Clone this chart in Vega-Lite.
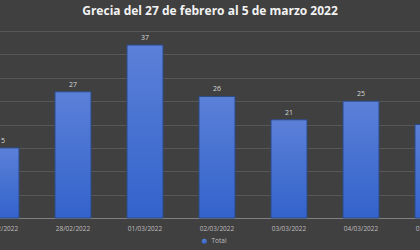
{
  "$schema": "https://vega.github.io/schema/vega-lite/v6.json",
  "width": 420,
  "height": 187,
  "autosize": {"type": "none"},
  "padding": {"left": 0, "top": 31, "right": 0, "bottom": 32},
  "background": "#404040",
  "config": {"view": {"stroke": null}},
  "title": {
    "text": "Grecia del 27 de febrero al 5 de marzo 2022",
    "color": "#f2f2f2",
    "font": "Open Sans",
    "fontSize": 12,
    "fontWeight": "bold",
    "anchor": "middle",
    "offset": 13
  },
  "data": {
    "values": [
      {"fecha": "27/02/2022", "total": 15, "serie": "Total"},
      {"fecha": "28/02/2022", "total": 27, "serie": "Total"},
      {"fecha": "01/03/2022", "total": 37, "serie": "Total"},
      {"fecha": "02/03/2022", "total": 26, "serie": "Total"},
      {"fecha": "03/03/2022", "total": 21, "serie": "Total"},
      {"fecha": "04/03/2022", "total": 25, "serie": "Total"},
      {"fecha": "05/03/2022", "total": 20, "serie": "Total"}
    ]
  },
  "encoding": {
    "x": {
      "field": "fecha",
      "type": "nominal",
      "sort": null,
      "scale": {"range": [-35, 469], "paddingInner": 0.5, "paddingOuter": 0.25},
      "axis": {
        "title": null,
        "labelAngle": 0,
        "ticks": false,
        "domain": true,
        "domainColor": "#808080",
        "labelColor": "#bfbfbf",
        "labelFont": "Open Sans",
        "labelFontSize": 6.5,
        "labelPadding": 7,
        "grid": false
      }
    },
    "y": {
      "field": "total",
      "type": "quantitative",
      "scale": {"domain": [0, 40]},
      "axis": {
        "title": null,
        "labels": false,
        "ticks": false,
        "domain": false,
        "grid": true,
        "gridColor": "#575757",
        "values": [5, 10, 15, 20, 25, 30, 35, 40]
      }
    }
  },
  "layer": [
    {
      "mark": {
        "type": "bar",
        "fill": {
          "gradient": "linear",
          "x1": 0, "y1": 0, "x2": 0, "y2": 1,
          "stops": [
            {"offset": 0, "color": "#5b80d8"},
            {"offset": 1, "color": "#3363cb"}
          ]
        },
        "strokeWidth": 1
      },
      "encoding": {
        "stroke": {
          "field": "serie",
          "type": "nominal",
          "scale": {"range": ["#2d4a85"]},
          "legend": {
            "orient": "none",
            "legendX": 201,
            "legendY": 207,
            "title": null,
            "symbolType": "circle",
            "symbolSize": 25,
            "symbolFillColor": "#4a74d0",
            "symbolStrokeWidth": 0,
            "labelColor": "#bfbfbf",
            "labelFont": "Open Sans",
            "labelFontSize": 6.5
          }
        }
      }
    },
    {
      "mark": {
        "type": "text",
        "dy": -7,
        "color": "#d9d9d9",
        "font": "Open Sans",
        "fontSize": 7
      },
      "encoding": {
        "text": {"field": "total", "type": "quantitative"}
      }
    }
  ]
}
